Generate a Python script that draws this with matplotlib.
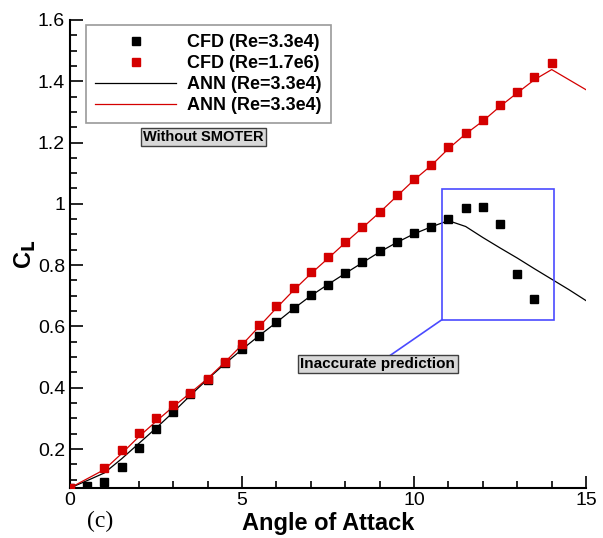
import numpy as np
import matplotlib.pyplot as plt
from matplotlib.ticker import MultipleLocator

plt.rcParams['font.family'] = ['Liberation Sans', 'DejaVu Sans']

# CFD samples
aoa_cfd_lo = np.arange(0, 14, 0.5)
cl_cfd_lo = [0.073, 0.081, 0.094, 0.143, 0.202, 0.265, 0.322, 0.380, 0.424, 0.481,
             0.527, 0.570, 0.613, 0.661, 0.703, 0.735, 0.773, 0.809, 0.845, 0.876,
             0.904, 0.926, 0.950, 0.985, 0.989, 0.934, 0.771, 0.691]
aoa_cfd_hi = [0, 1, 1.5, 2, 2.5, 3, 3.5, 4, 4.5, 5, 5.5, 6, 6.5, 7, 7.5, 8, 8.5, 9,
              9.5, 10, 10.5, 11, 11.5, 12, 12.5, 13, 13.5, 14]
cl_cfd_hi = [0.073, 0.138, 0.198, 0.252, 0.300, 0.344, 0.383, 0.428, 0.484, 0.543,
             0.605, 0.667, 0.724, 0.777, 0.825, 0.876, 0.923, 0.974, 1.028, 1.082,
             1.126, 1.186, 1.231, 1.272, 1.322, 1.365, 1.415, 1.460]

# ANN predictions
aoa_ann_lo = np.arange(0, 15.5, 0.5)
cl_ann_lo = [0.073, 0.097, 0.122, 0.168, 0.218, 0.268, 0.320, 0.375, 0.428, 0.478,
             0.525, 0.570, 0.613, 0.658, 0.700, 0.737, 0.773, 0.808, 0.843, 0.874,
             0.902, 0.925, 0.945, 0.926, 0.890, 0.856, 0.823, 0.788, 0.754, 0.720, 0.684]
aoa_ann_hi = list(np.arange(0, 14.5, 0.5)) + [15]
cl_ann_hi = [0.073, 0.103, 0.133, 0.185, 0.240, 0.290, 0.338, 0.383, 0.430, 0.483,
             0.540, 0.600, 0.660, 0.718, 0.772, 0.822, 0.873, 0.922, 0.972, 1.025,
             1.078, 1.125, 1.180, 1.228, 1.270, 1.318, 1.362, 1.405, 1.438, 1.372]

red = '#d40000'

fig = plt.figure(figsize=(6.03, 5.38), dpi=100)
ax = fig.add_axes([0.116, 0.093, 0.856, 0.870])

ax.plot(aoa_cfd_lo, cl_cfd_lo, 's', color='black', ms=6.2, ls='none',
        label='CFD (Re=3.3e4)', zorder=4)
ax.plot(aoa_cfd_hi, cl_cfd_hi, 's', color=red, ms=6.2, ls='none',
        label='CFD (Re=1.7e6)', zorder=4)
ax.plot(aoa_ann_lo, cl_ann_lo, '-', color='black', lw=0.9,
        label='ANN (Re=3.3e4)', zorder=3)
ax.plot(aoa_ann_hi, cl_ann_hi, '-', color=red, lw=0.9,
        label='ANN (Re=3.3e4)', zorder=3)

ax.set_xlim(0, 15)
ax.set_ylim(0.073, 1.6)
ax.xaxis.set_major_locator(MultipleLocator(5))
ax.xaxis.set_minor_locator(MultipleLocator(1))
ax.yaxis.set_minor_locator(MultipleLocator(0.05))
ax.set_yticks([0.2, 0.4, 0.6, 0.8, 1.0, 1.2, 1.4, 1.6])
ax.set_yticklabels(['0.2', '0.4', '0.6', '0.8', '1', '1.2', '1.4', '1.6'])
ax.tick_params(which='both', direction='in', labelsize=14, width=1.2)
ax.tick_params(which='major', length=9)
ax.tick_params(which='minor', length=5)
ax.tick_params(axis='x', pad=3)
for side in ['top', 'right']:
    ax.spines[side].set_visible(False)
for side in ['left', 'bottom']:
    ax.spines[side].set_linewidth(1.5)

ax.set_xlabel('Angle of Attack', fontsize=17, fontweight='bold', labelpad=2)
ax.set_ylabel('C$_\\mathbf{L}$', fontsize=17, fontweight='bold', labelpad=0)

leg = ax.legend(loc='upper left', bbox_to_anchor=(0.0315, 0.989), borderaxespad=0,
                fontsize=13, frameon=True, fancybox=False, edgecolor='#808080',
                handlelength=4.5, handletextpad=0.6, borderpad=0.5,
                labelspacing=0.22, markerfirst=True)
leg.get_frame().set_linewidth(1.2)
for t in leg.get_texts():
    t.set_fontweight('bold')

ax.text(3.87, 1.218, 'Without SMOTER', fontsize=10.5, fontweight='bold',
        ha='center', va='center',
        bbox=dict(boxstyle='square,pad=0.15', fc='#d8d8d8', ec='#404040', lw=1))

# region where the network misses the stall
ax.add_patch(plt.Rectangle((10.81, 0.622), 3.26, 0.427, fill=False,
                           ec='#4a4aff', lw=1.2, zorder=5))
ax.plot([10.81, 9.3], [0.622, 0.505], color='#4a4aff', lw=1.2, zorder=5)
ax.text(8.95, 0.478, 'Inaccurate prediction', fontsize=11, fontweight='bold',
        ha='center', va='center', zorder=6,
        bbox=dict(boxstyle='square,pad=0.15', fc='#d8d8d8', ec='#404040', lw=1))

fig.text(0.166, 0.03, '(c)', fontsize=17, family='Liberation Serif',
         ha='center', va='center')

fig.savefig('out.png', dpi=100)
